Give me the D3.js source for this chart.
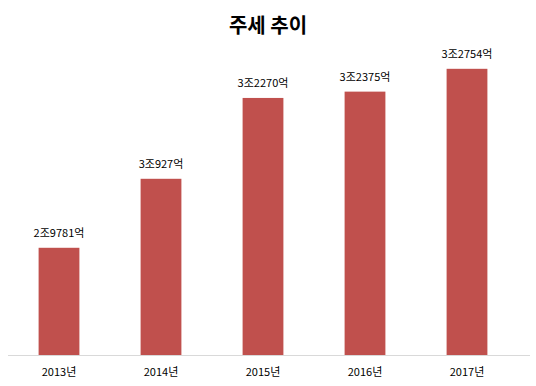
<!DOCTYPE html>
<html>
<head>
<meta charset="utf-8">
<script src="https://cdn.jsdelivr.net/npm/d3@7"></script>
<style>
  body { margin: 0; background: #fff; }
  text { font-family: "Noto Sans CJK KR", "Noto Sans", sans-serif; }
</style>
</head>
<body>
<div id="chart"></div>
<script>
// 주세 추이 (단위: 억원)
const years = ["2013년", "2014년", "2015년", "2016년", "2017년"];
const values = [29781, 30927, 32270, 32375, 32754];
const labels = ["2조9781억", "3조927억", "3조2270억", "3조2375억", "3조2754억"];

const width = 536;
const height = 386;
const margin = { top: 54, right: 18, bottom: 31, left: 8 };

const svg = d3.select("#chart")
  .append("svg")
  .attr("width", width)
  .attr("height", height);

svg.append("text")
  .attr("x", 268)
  .attr("y", 33)
  .attr("text-anchor", "middle")
  .attr("font-size", 20)
  .attr("font-weight", "bold")
  .attr("fill", "#000")
  .text("주세 추이");

const x = d3.scaleBand()
  .domain(years)
  .range([margin.left, width - margin.right])
  .paddingInner(0.6)
  .paddingOuter(0.3);

const y = d3.scaleLinear()
  .domain([28000, 33000])
  .range([height - margin.bottom, margin.top]);

svg.selectAll("rect.bar")
  .data(values)
  .join("rect")
  .attr("class", "bar")
  .attr("x", (d, i) => x(years[i]))
  .attr("y", d => y(d))
  .attr("width", x.bandwidth())
  .attr("height", d => y(28000) - y(d))
  .attr("fill", "#c0504d");

svg.selectAll("text.val")
  .data(values)
  .join("text")
  .attr("class", "val")
  .attr("x", (d, i) => x(years[i]) + x.bandwidth() / 2)
  .attr("y", d => y(d) - 11)
  .attr("text-anchor", "middle")
  .attr("font-size", 11)
  .attr("fill", "#000")
  .text((d, i) => labels[i]);

const axis = svg.append("g")
  .attr("transform", `translate(0,${y(28000)})`)
  .call(d3.axisBottom(x).tickSize(0).tickPadding(13));

axis.select(".domain")
  .attr("stroke", "#d9d9d9")
  .attr("d", `M${margin.left},0.5H530`);

axis.selectAll("text")
  .attr("font-size", 11)
  .attr("fill", "#000")
  .style("font-family", "'Noto Sans CJK KR', sans-serif");
</script>
</body>
</html>
